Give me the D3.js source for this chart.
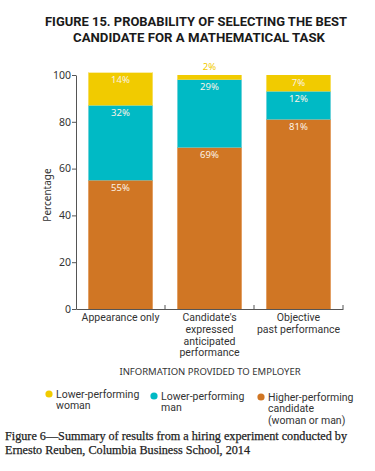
<!DOCTYPE html>
<html>
<head>
<meta charset="utf-8">
<script src="https://cdn.jsdelivr.net/npm/d3@7"></script>
<style>
  body { margin: 0; background: #fff; }
  svg { display: block; font-family: "Noto Sans", "Open Sans", sans-serif; }
  .ml { font-family: Roboto, "Noto Sans", sans-serif; font-size: 10.5px; fill: #333; }
  .title { font-family: Roboto, "Noto Sans", sans-serif; font-size: 13.5px; font-weight: bold; fill: #1a1a1a; }
</style>
</head>
<body>
<div id="chart"></div>
<script>
// Chart data
const categories = ['Appearance only', "Candidate's expressed anticipated performance", 'Objective past performance'];
const categoryLines = [['Appearance only'], ["Candidate's", 'expressed', 'anticipated', 'performance'], ['Objective', 'past performance']];
const seriesKeys = ['higher', 'man', 'woman'];
const higherPerforming = [55, 69, 81];
const lowerMan = [32, 29, 12];
const lowerWoman = [14, 2, 7];
const yTicks = [0, 20, 40, 60, 80, 100];

const legendItems = [
    { key: 'woman', lines: ['Lower-performing', 'woman'] },
    { key: 'man', lines: ['Lower-performing', 'man'] },
    { key: 'higher', lines: ['Higher-performing', 'candidate', '(woman or man)'] }
];

const colors = { higher: '#d07624', man: '#00bac5', woman: '#f1cb00' };
const strokes = { higher: '#e2a066', man: '#6fd3da', woman: '#f6de5e' };

const width = 375, height = 471;
const margin = { left: 76, right: 32, top: 75, bottom: 162 };

const svg = d3.select('#chart').append('svg')
    .attr('width', width)
    .attr('height', height);

// Title (one text per line)
svg.append('text')
    .attr('class', 'title')
    .attr('x', 196).attr('y', 26)
    .attr('text-anchor', 'middle')
    .attr('textLength', 302).attr('lengthAdjust', 'spacingAndGlyphs')
    .text('FIGURE 15. PROBABILITY OF SELECTING THE BEST');
svg.append('text')
    .attr('class', 'title')
    .attr('x', 199).attr('y', 42)
    .attr('text-anchor', 'middle')
    .attr('textLength', 252).attr('lengthAdjust', 'spacingAndGlyphs')
    .text('CANDIDATE FOR A MATHEMATICAL TASK');

// Scales
const x = d3.scaleBand()
    .domain(categories)
    .range([margin.left, width - margin.right])
    .paddingInner(0.27)
    .paddingOuter(0.135);

const y = d3.scaleLinear()
    .domain([0, 100])
    .range([height - margin.bottom, margin.top]);

// Stack the series
const rows = categories.map((c, i) => ({
    category: c,
    higher: higherPerforming[i],
    man: lowerMan[i],
    woman: lowerWoman[i]
}));
const stack = d3.stack().keys(seriesKeys)(rows);

const g = svg.append('g');

// Bars: fill with a thin light outline on the sides
stack.forEach(layer => {
    const seg = g.selectAll(null)
        .data(layer)
        .enter();
    seg.append('rect')
        .attr('x', d => x(d.data.category))
        .attr('width', x.bandwidth())
        .attr('y', d => y(d[1]))
        .attr('height', d => y(d[0]) - y(d[1]))
        .attr('fill', colors[layer.key]);
    seg.append('rect')
        .attr('x', d => x(d.data.category) + 0.5)
        .attr('width', x.bandwidth() - 1)
        .attr('y', d => y(d[1]))
        .attr('height', d => y(d[0]) - y(d[1]))
        .attr('fill', 'none')
        .attr('stroke', strokes[layer.key])
        .attr('stroke-width', 1)
        .attr('stroke-dasharray', d => {
            const w = x.bandwidth() - 1, h = y(d[0]) - y(d[1]);
            // skip top and bottom edges, draw the two sides
            return `0 ${w} ${h} ${w} ${h}`;
        });
});

// Value labels
stack.forEach(layer => {
    g.selectAll(null)
        .data(layer)
        .enter()
        .append('text')
        .attr('x', d => x(d.data.category) + x.bandwidth() / 2)
        .attr('y', d => {
            const v = d[1] - d[0];
            return v < 5 ? y(d[1]) - 5 : y(d[1]) + 10.5;
        })
        .attr('text-anchor', 'middle')
        .style('font-size', '9.5px')
        .attr('fill', d => (d[1] - d[0]) < 5 ? colors[layer.key] : '#fbf3e6')
        .text(d => (d[1] - d[0]) + '%');
});

// Y axis
const yAxis = svg.append('g')
    .attr('transform', `translate(${margin.left},0)`)
    .call(d3.axisLeft(y).tickValues(yTicks).tickSize(4).tickSizeOuter(0));
yAxis.select('.domain').attr('stroke', '#555');
yAxis.selectAll('.tick line').attr('stroke', '#555');
yAxis.selectAll('.tick text')
    .attr('fill', '#333')
    .attr('x', -5)
    .style('font-size', '10.5px')
    .style('font-family', '"Noto Sans", sans-serif');

svg.append('text')
    .attr('transform', `translate(51,${(y(0) + y(100)) / 2 + 3}) rotate(-90)`)
    .attr('text-anchor', 'middle')
    .style('font-size', '10px')
    .attr('fill', '#333')
    .text('Percentage');

// X axis: baseline plus inner ticks at band boundaries
const xAxis = svg.append('g')
    .attr('transform', `translate(0,${y(0)})`)
    .call(d3.axisBottom(x).tickSize(0).tickSizeOuter(0).tickFormat(''));
xAxis.select('.domain').attr('stroke', '#555');

const boundaries = categories.map(c => x(c) + x.bandwidth() + x.step() * x.paddingInner() / 2);
xAxis.selectAll('.boundary')
    .data(boundaries)
    .enter()
    .append('line')
    .attr('x1', d => d).attr('x2', d => d)
    .attr('y1', 0).attr('y2', -4)
    .attr('stroke', '#555');

// Category labels, one text per line
categories.forEach((c, i) => {
    categoryLines[i].forEach((line, j) => {
        svg.append('text')
            .attr('class', 'ml')
            .attr('x', x(c) + x.bandwidth() / 2)
            .attr('y', 321 + j * 11.8)
            .attr('text-anchor', 'middle')
            .text(line);
    });
});

svg.append('text')
    .attr('x', 210)
    .attr('y', 375)
    .attr('text-anchor', 'middle')
    .style('font-size', '9.5px')
    .attr('fill', '#333')
    .text('INFORMATION PROVIDED TO EMPLOYER');

// Legend
const legendX = [49, 154, 261];
const legendY = [394, 396, 397];
legendItems.forEach((item, i) => {
    const lg = svg.append('g').attr('transform', `translate(${legendX[i]},${legendY[i]})`);
    lg.append('circle').attr('r', 3.6).attr('fill', colors[item.key]);
    item.lines.forEach((line, j) => {
        lg.append('text')
            .attr('class', 'ml')
            .attr('x', 7).attr('y', 3.5 + j * 11.5)
            .text(line);
    });
});

// Caption
const captionLines = [
    { text: 'Figure 6—Summary of results from a hiring experiment conducted by', y: 440, len: 342 },
    { text: 'Ernesto Reuben, Columbia Business School, 2014', y: 454, len: 245 }
];
captionLines.forEach(c => {
    svg.append('text')
        .attr('x', 5).attr('y', c.y)
        .attr('textLength', c.len).attr('lengthAdjust', 'spacingAndGlyphs')
        .style('font-family', '"Liberation Serif", "DejaVu Serif", serif')
        .style('font-size', '12.5px')
        .style('font-weight', 'normal')
        .style('stroke', '#222')
        .style('stroke-width', '0.25px')
        .attr('fill', '#222')
        .text(c.text);
});
</script>
</body>
</html>
